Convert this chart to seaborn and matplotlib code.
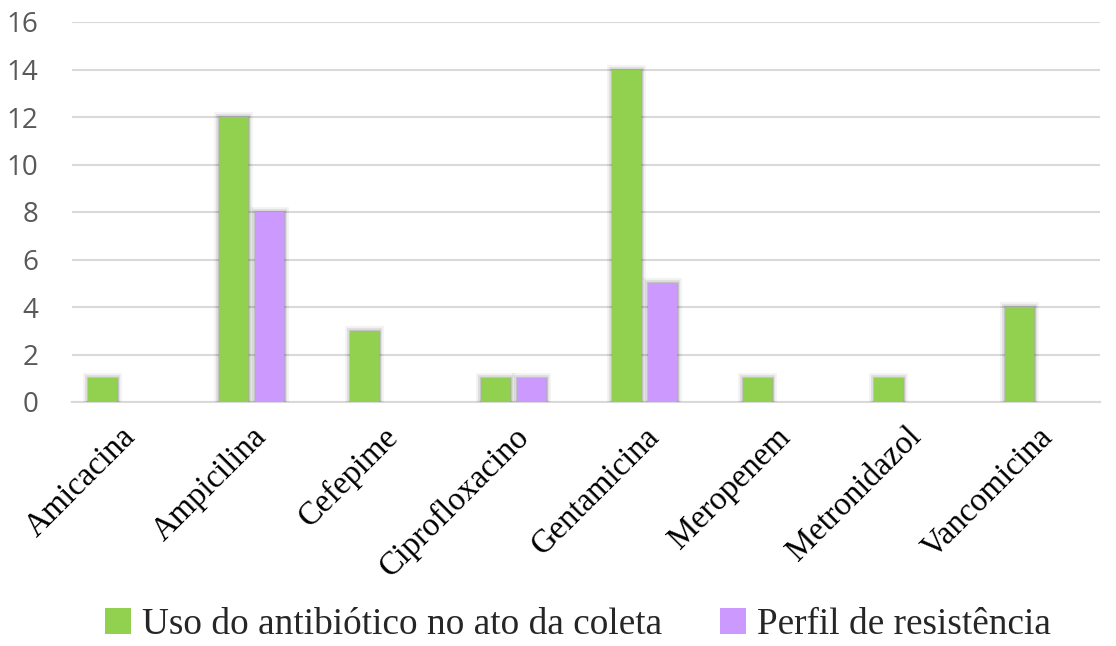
import matplotlib
matplotlib.use("Agg")
import matplotlib.pyplot as plt
import matplotlib.patheffects as pe
from matplotlib.patches import Patch
import seaborn as sns
import pandas as pd

# Antibiotics and counts per series
antibioticos = ["Amicacina", "Ampicilina", "Cefepime", "Ciprofloxacino",
                "Gentamicina", "Meropenem", "Metronidazol", "Vancomicina"]
uso_coleta = [1, 12, 3, 1, 14, 1, 1, 4]
perfil_resistencia = [0, 8, 0, 1, 5, 0, 0, 0]
series = ["Uso do antibiótico no ato da coleta", "Perfil de resistência"]
cores = ["#92D050", "#CC99FF"]
yticks = [0, 2, 4, 6, 8, 10, 12, 14, 16]

df = pd.DataFrame({
    "antibiotico": antibioticos * 2,
    "valor": uso_coleta + perfil_resistencia,
    "serie": [series[0]] * len(antibioticos) + [series[1]] * len(antibioticos),
})

sns.set_theme(style="white")
fig = plt.figure(figsize=(11.16, 6.46), dpi=100)
ax = fig.add_axes([72 / 1116, 1 - 402 / 646, (1100 - 72) / 1116, (402 - 22) / 646])

sns.barplot(data=df, x="antibiotico", y="valor", hue="serie",
            palette=cores, width=0.55, gap=0.2, ax=ax,
            legend=False, saturation=1, zorder=3)

# soft grey halo round each bar
for bar in ax.patches:
    bar.set_linewidth(0)
    if bar.get_height() > 0:
        bar.set_path_effects([
            pe.Stroke(linewidth=7, foreground=(0, 0, 0, 0.05)),
            pe.Stroke(linewidth=4, foreground=(0, 0, 0, 0.09)),
            pe.Stroke(linewidth=2, foreground=(0, 0, 0, 0.12)),
            pe.Normal(),
        ])

ax.set_ylim(0, 16)
ax.set_xlim(-0.37, 7.48)
ax.set_yticks(yticks)
ax.yaxis.grid(True, color="#D9D9D9", linewidth=1.5, zorder=0)
ax.set_axisbelow(True)
for s in ["top", "right", "left"]:
    ax.spines[s].set_visible(False)
ax.spines["bottom"].set_color("#D9D9D9")
ax.spines["bottom"].set_linewidth(1.5)
ax.set_xlabel("")
ax.set_ylabel("")

ax.tick_params(axis="y", length=0, pad=24, labelsize=20, labelcolor="#595959")
for lbl in ax.get_yticklabels():
    lbl.set_family("Open Sans")
ax.tick_params(axis="x", length=0, pad=14)
ax.set_xticks(range(len(antibioticos)))
ax.set_xticklabels(antibioticos, rotation=45, ha="right", rotation_mode="anchor",
                   family="Liberation Serif", fontsize=23.5, color="black")

# legend along the bottom
handles = [Patch(facecolor=c, edgecolor="none") for c in cores]
fig.legend(handles, series, loc="lower center", bbox_to_anchor=(0.518, -0.046),
           ncol=2, frameon=False, prop={"family": "Liberation Serif", "size": 26.8},
           handlelength=0.7, handleheight=0.7, handletextpad=0.3, columnspacing=1.55)

fig.savefig("out.png", dpi=100, facecolor="white")
